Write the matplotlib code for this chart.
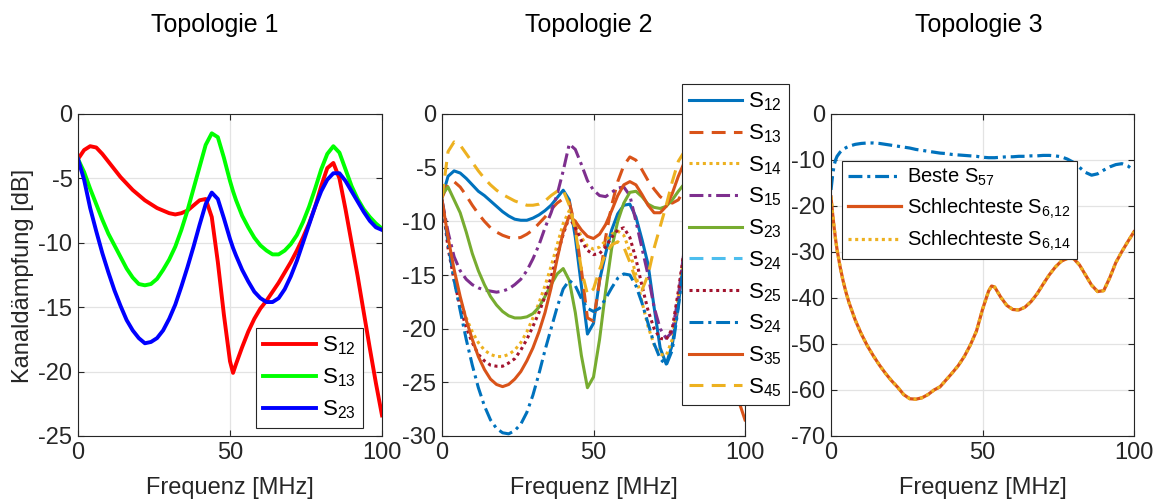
import matplotlib
matplotlib.use('Agg')
import matplotlib.pyplot as plt

plt.rcParams['font.family'] = ['Liberation Sans', 'DejaVu Sans']
plt.rcParams['mathtext.fontset'] = 'custom'
plt.rcParams['mathtext.rm'] = 'Liberation Sans'
plt.rcParams['mathtext.it'] = 'Liberation Sans:italic'
plt.rcParams['mathtext.bf'] = 'Liberation Sans:bold'
plt.rcParams['axes.unicode_minus'] = False
plt.rcParams['lines.scale_dashes'] = False

# ---------------- data ----------------
titles = ['Topologie 1', 'Topologie 2', 'Topologie 3']
xlabel = 'Frequenz [MHz]'
ylabel = 'Kanaldämpfung [dB]'

# Topologie 1 (extra sample at 51 MHz for the sharp notch)
freq1 = [0, 2, 4, 6, 8, 10, 12, 14, 16, 18, 20, 22, 24, 26, 28, 30, 32, 34, 36, 38,
         40, 42, 44, 46, 48, 50, 51, 52, 54, 56, 58, 60, 62, 64, 66, 68, 70, 72, 74, 76, 78,
         80, 82, 84, 86, 88, 90, 92, 94, 96, 98, 100]
t1_s12 = [-3.5, -2.8, -2.5, -2.6, -3.1, -3.7, -4.3, -4.9, -5.4, -5.9, -6.3, -6.7, -7.0, -7.3, -7.5,
          -7.7, -7.8, -7.7, -7.5, -7.1, -6.7, -6.6, -8.0, -11.5, -15.6, -19.2, -20.1, -19.4, -18.1,
          -16.9, -15.9, -15.1, -14.5, -13.8, -13.1, -12.3, -11.5, -10.6, -9.6, -8.5, -7.2, -5.6, -4.2,
          -3.8, -5.0, -7.4, -10.0, -12.6, -15.4, -18.2, -20.9, -23.4]
t1_s13 = [-3.5, -4.5, -5.8, -7.0, -8.2, -9.3, -10.2, -11.1, -12.0, -12.7, -13.2, -13.3, -13.2, -12.8,
          -12.1, -11.3, -10.3, -9.0, -7.5, -5.8, -4.1, -2.4, -1.5, -1.8, -3.4, -5.2, -6.0, -6.7, -7.9,
          -8.8, -9.6, -10.2, -10.6, -10.9, -10.9, -10.6, -10.1, -9.4, -8.4, -7.2, -5.8, -4.3, -3.1,
          -2.5, -3.0, -4.3, -5.6, -6.6, -7.4, -8.0, -8.5, -8.9]
t1_s23 = [-3.5, -5.1, -7.3, -9.1, -10.8, -12.3, -13.7, -14.9, -16.0, -16.8, -17.4, -17.8, -17.7, -17.4,
          -16.8, -15.9, -14.8, -13.4, -11.9, -10.3, -8.6, -7.0, -6.1, -6.6, -8.1, -9.7, -10.4, -11.0,
          -12.1, -13.0, -13.8, -14.3, -14.6, -14.6, -14.3, -13.6, -12.6, -11.4, -10.0, -8.6, -7.2,
          -6.0, -5.1, -4.6, -4.6, -5.2, -6.0, -6.8, -7.6, -8.3, -8.8, -9.0]

# Topologie 2
freq2 = [0, 2, 4, 6, 8, 10, 12, 14, 16, 18, 20, 22, 24, 26, 28, 30, 32, 34, 36, 38,
         40, 42, 44, 46, 48, 50, 52, 54, 56, 58, 60, 62, 64, 66, 68, 70, 72, 74, 76, 78,
         80, 82, 84, 86, 88, 90, 92, 94, 96, 98, 100]
t2_s12 = [-7.8, -5.8, -5.3, -5.5, -6.0, -6.6, -7.2, -7.6, -8.1, -8.6, -9.1, -9.5, -9.8, -9.9, -9.9,
          -9.7, -9.4, -9.0, -8.5, -7.8, -7.1, -8.0, -11.5, -16.0, -20.5, -19.5, -15.5, -13.0, -10.8,
          -9.3, -8.5, -8.4, -9.6, -11.7, -14.0, -18.0, -21.8, -23.3, -21.5, -17.8, -13.0, -9.0, -7.0,
          -6.2, -6.0, -6.3, -6.8, -7.3, -7.8, -8.2, -8.6]
t2_s13 = [-7.8, -6.5, -6.3, -6.8, -7.6, -8.5, -9.3, -10.0, -10.6, -11.0, -11.3, -11.5, -11.6, -11.5,
          -11.2, -10.8, -10.2, -9.6, -8.9, -8.3, -7.9, -8.2, -10.5, -14.5, -19.0, -19.3, -15.5, -11.5,
          -8.5, -6.3, -4.8, -4.0, -4.3, -5.2, -6.2, -7.0, -7.7, -8.1, -8.3, -8.0, -7.0, -5.6, -4.8,
          -5.0, -5.8, -6.6, -7.2, -7.6, -7.9, -8.1, -8.3]
t2_s14 = [-8.0, -12.0, -15.0, -17.3, -19.0, -20.3, -21.3, -22.0, -22.4, -22.6, -22.6, -22.4, -22.0,
          -21.3, -20.3, -19.0, -17.6, -16.0, -14.2, -12.2, -10.2, -9.0, -10.0, -11.5, -12.3, -12.6,
          -12.4, -11.8, -11.2, -10.9, -11.3, -12.8, -15.0, -17.5, -19.8, -21.5, -22.4, -22.5, -21.0,
          -17.0, -13.0, -10.0, -8.5, -8.0, -8.3, -9.0, -9.8, -10.5, -11.0, -11.4, -11.7]
t2_s15 = [-8.0, -11.0, -13.3, -14.6, -15.4, -15.9, -16.2, -16.4, -16.5, -16.6, -16.5, -16.3, -15.9,
          -15.4, -14.6, -13.5, -12.2, -10.6, -9.2, -7.5, -5.3, -2.8, -3.3, -4.7, -6.2, -7.1, -7.6,
          -7.7, -7.3, -6.9, -6.8, -7.6, -10.0, -12.5, -15.0, -18.0, -20.0, -20.9, -20.3, -17.0,
          -12.5, -9.5, -8.0, -7.6, -7.8, -8.3, -8.9, -9.4, -9.8, -10.1, -10.4]
t2_s23 = [-7.5, -6.8, -8.0, -9.2, -11.0, -13.0, -14.6, -15.9, -17.0, -17.8, -18.4, -18.8, -19.0,
          -19.0, -18.9, -18.6, -18.0, -17.0, -15.9, -14.9, -14.4, -15.5, -18.5, -22.5, -25.5, -24.5,
          -21.0, -16.5, -12.5, -10.0, -8.3, -7.3, -7.2, -7.7, -8.4, -8.7, -8.8, -8.6, -8.0, -7.2,
          -6.5, -6.0, -5.8, -6.0, -6.5, -7.0, -7.5, -7.9, -8.2, -8.5, -8.7]
t2_s24_a = []
t2_s25 = [-8.0, -12.5, -15.5, -18.0, -19.9, -21.3, -22.4, -23.0, -23.4, -23.5, -23.5, -23.2, -22.8,
          -22.0, -21.0, -19.8, -18.5, -17.0, -15.2, -13.2, -11.2, -9.6, -10.6, -11.8, -12.7, -13.1,
          -13.0, -12.4, -11.5, -10.8, -10.6, -11.5, -13.5, -16.0, -18.3, -20.0, -20.9, -21.0, -20.0,
          -16.5, -12.5, -10.0, -8.8, -8.5, -8.8, -9.4, -10.1, -10.7, -11.2, -11.6, -11.9]
t2_s24_b = [-8.0, -12.0, -15.5, -18.3, -21.0, -23.4, -25.5, -27.2, -28.5, -29.3, -29.7, -29.8, -29.5,
            -28.9, -27.8, -26.2, -24.2, -22.0, -20.0, -18.0, -16.3, -15.5, -16.0, -17.2, -18.1, -18.4,
            -18.1, -17.2, -16.2, -15.3, -14.9, -15.0, -16.0, -17.6, -19.5, -21.4, -22.8, -23.4, -22.0,
            -18.0, -13.5, -10.5, -9.0, -8.6, -8.9, -9.5, -10.2, -10.8, -11.3, -11.7, -12.0]
t2_s35 = [-8.0, -11.5, -14.5, -17.0, -19.2, -21.0, -22.6, -23.8, -24.7, -25.2, -25.4, -25.2, -24.7,
          -24.0, -23.0, -21.8, -20.3, -18.5, -16.2, -13.5, -11.0, -9.5, -10.0, -10.8, -11.4, -11.6,
          -11.2, -10.3, -9.0, -7.6, -6.6, -6.3, -6.6, -7.5, -8.5, -9.2, -9.2, -8.6, -7.4, -5.8, -4.5,
          -4.0, -4.3, -5.5, -8.0, -11.5, -15.0, -19.0, -23.5, -26.8, -28.5]
t2_s45 = [-7.8, -3.5, -2.6, -2.9, -3.7, -4.5, -5.3, -6.0, -6.6, -7.1, -7.5, -7.8, -8.1, -8.3, -8.5,
          -8.5, -8.4, -8.1, -7.6, -7.2, -7.1, -8.5, -10.8, -14.5, -16.8, -16.3, -14.5, -13.0, -12.2,
          -11.9, -12.4, -13.8, -15.5, -16.4, -15.0, -12.5, -10.5, -8.5, -6.3, -4.4, -3.5, -3.3, -3.6,
          -4.3, -5.0, -5.7, -6.3, -6.8, -7.2, -7.5, -7.8]

# Topologie 3 (finer steps near 0 MHz and the resonance at 53 MHz)
freq3 = [0, 0.5, 1, 1.5, 2, 3, 4, 5, 6, 8, 10, 12, 14, 16, 18, 20, 22, 24, 26, 28, 30, 32, 34, 36,
         38, 40, 42, 44, 46, 48, 50, 52, 53, 54, 56, 58, 60, 62, 64, 66, 68, 70, 72, 74, 76, 78,
         80, 82, 84, 86, 88, 90, 92, 94, 96, 98, 100]
t3_best_57 = [-16.5, -13.5, -11.2, -10.0, -9.2, -8.3, -7.7, -7.3, -7.0, -6.6, -6.4, -6.3, -6.3, -6.4,
              -6.6, -6.8, -7.0, -7.2, -7.4, -7.7, -7.9, -8.1, -8.3, -8.5, -8.6, -8.8, -8.9, -9.0,
              -9.1, -9.2, -9.4, -9.5, -9.5, -9.5, -9.4, -9.3, -9.3, -9.2, -9.2, -9.1, -9.1, -9.0,
              -9.0, -9.1, -9.3, -9.8, -10.5, -11.6, -12.7, -13.3, -13.0, -12.2, -11.5, -11.0, -10.8,
              -11.3, -12.3]
t3_worst_6_12 = [-18.0, -21.5, -24.5, -27.2, -29.5, -33.2, -36.3, -38.9, -41.1, -44.8, -47.8, -50.4,
                 -52.6, -54.6, -56.4, -58.0, -59.4, -61.0, -61.9, -62.0, -61.7, -61.0, -60.0, -59.3,
                 -57.8, -56.3, -54.7, -52.7, -50.2, -47.2, -42.5, -38.5, -37.4, -37.6, -39.8, -41.6,
                 -42.5, -42.6, -42.0, -40.8, -39.1, -37.0, -35.0, -33.3, -32.0, -31.4, -31.4, -32.8,
                 -35.0, -37.2, -38.6, -38.4, -35.6, -32.3, -29.9, -27.7, -25.6]
t3_worst_6_14 = list(t3_worst_6_12)

# ---------------- styling ----------------
C_BLUE, C_ORANGE, C_YELLOW = '#0072BD', '#D95319', '#EDB120'
C_PURPLE, C_GREEN, C_CYAN, C_RED = '#7E2F8E', '#77AC30', '#4DBEEE', '#A2142F'
DASH = (0, (10, 6))
DOT = (0, (2.2, 2.6))
DASHDOT = (0, (10, 3.5, 2.2, 3.5))
TEXT_C = '#262626'
FS_TICK = 17
FS_LABEL = 17
FS_TITLE = 18
FS_LEG = 16

W, H = 1158, 499
fig = plt.figure(figsize=(W / 100, H / 100), dpi=100)


def px_axes(x0, x1, y0, y1):
    return fig.add_axes([x0 / W, 1 - y1 / H, (x1 - x0) / W, (y1 - y0) / H])


def style(ax, ylim, yticks):
    ax.set_xlim(0, 100)
    ax.set_ylim(*ylim)
    ax.set_xticks([0, 50, 100])
    ax.set_yticks(yticks)
    ax.grid(True, color='#e3e3e3', linewidth=0.9)
    ax.set_axisbelow(True)
    ax.tick_params(direction='in', top=True, right=True, length=4, width=0.8,
                   color=TEXT_C, labelcolor=TEXT_C, labelsize=FS_TICK, pad=4)
    for sp in ax.spines.values():
        sp.set_color(TEXT_C)
        sp.set_linewidth(0.8)
    ax.set_xlabel(xlabel, fontsize=FS_LABEL, color=TEXT_C)
    ax.xaxis.set_label_coords(0.5, -0.127)


def legend(ax, x, y, fs=FS_LEG, **kw):
    leg = ax.legend(loc='upper left', bbox_to_anchor=(x / W, 1 - y / H),
                    bbox_transform=fig.transFigure, fancybox=False, framealpha=1,
                    edgecolor=TEXT_C, borderaxespad=0, fontsize=fs, handletextpad=0.28,
                    handlelength=2.4 * FS_LEG / fs, **kw)
    leg.get_frame().set_linewidth(0.8)
    for t in leg.get_texts():
        t.set_color('black')
    return leg


# Topologie 1
ax1 = px_axes(78, 382, 114, 436)
lw1 = 2.8
ax1.plot(freq1, t1_s12, color='#FF0000', lw=lw1, label='S$_{12}$')
ax1.plot(freq1, t1_s13, color='#00FF00', lw=lw1, label='S$_{13}$')
ax1.plot(freq1, t1_s23, color='#0000FF', lw=lw1, label='S$_{23}$')
style(ax1, (-25, 0), [-25, -20, -15, -10, -5, 0])
ax1.set_ylabel(ylabel, fontsize=FS_LABEL, color=TEXT_C)
ax1.yaxis.set_label_coords(-0.145, 0.497)
legend(ax1, 256, 328, labelspacing=0.42, borderpad=0.3)

# Topologie 2
ax2 = px_axes(442, 745, 114, 436)
lw2 = 2.2
ax2.plot(freq2, t2_s12, color=C_BLUE, lw=lw2, label='S$_{12}$')
ax2.plot(freq2, t2_s13, color=C_ORANGE, lw=lw2, ls=DASH, label='S$_{13}$')
ax2.plot(freq2, t2_s14, color=C_YELLOW, lw=lw2, ls=DOT, label='S$_{14}$')
ax2.plot(freq2, t2_s15, color=C_PURPLE, lw=lw2, ls=DASHDOT, label='S$_{15}$')
ax2.plot(freq2, t2_s23, color=C_GREEN, lw=lw2, label='S$_{23}$')
ax2.plot(freq2[:len(t2_s24_a)], t2_s24_a, color=C_CYAN, lw=lw2, ls=DASH, label='S$_{24}$')
ax2.plot(freq2, t2_s25, color=C_RED, lw=lw2, ls=DOT, label='S$_{25}$')
ax2.plot(freq2, t2_s24_b, color=C_BLUE, lw=lw2, ls=DASHDOT, label='S$_{24}$')
ax2.plot(freq2, t2_s35, color=C_ORANGE, lw=lw2, label='S$_{35}$')
ax2.plot(freq2, t2_s45, color=C_YELLOW, lw=lw2, ls=DASH, label='S$_{45}$')
style(ax2, (-30, 0), [-30, -25, -20, -15, -10, -5, 0])
legend(ax2, 682, 84, labelspacing=0.41, borderpad=0.3)

# Topologie 3
ax3 = px_axes(831, 1134, 114, 436)
lw3 = 2.3
ax3.plot(freq3, t3_best_57, color=C_BLUE, lw=lw3, ls=DASHDOT, label='Beste S$_{57}$')
ax3.plot(freq3, t3_worst_6_12, color=C_ORANGE, lw=lw3, label='Schlechteste S$_{6{,}12}$')
ax3.plot(freq3, t3_worst_6_14, color=C_YELLOW, lw=lw3, ls=DOT, label='Schlechteste S$_{6{,}14}$')
style(ax3, (-70, 0), [-70, -60, -50, -40, -30, -20, -10, 0])
legend(ax3, 842, 161, fs=14.5, labelspacing=0.4, borderpad=0.3)

# panel titles
for xc, t in zip([215, 589, 979], titles):
    fig.text(xc / W, 1 - 25 / H, t, ha='center', va='center', fontsize=FS_TITLE, color='black')

fig.savefig('out.png', dpi=100)
